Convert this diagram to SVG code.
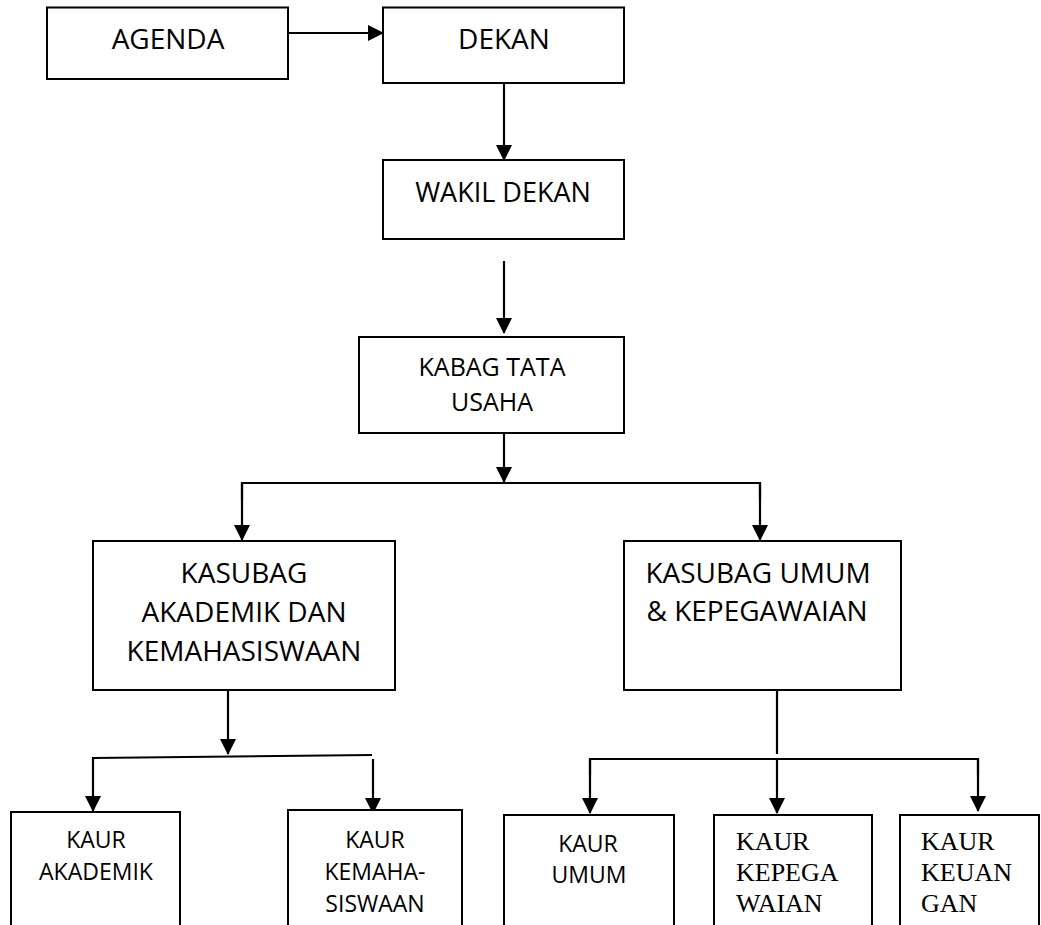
<svg xmlns="http://www.w3.org/2000/svg" width="1041" height="925" viewBox="0 0 1041 925">
<style>
.box{fill:#fff;stroke:#000;stroke-width:2}
.ln{fill:none;stroke:#000;stroke-width:2.2}
.t{font-family:"Open Sans","Liberation Sans",sans-serif;fill:#000;text-anchor:middle}
.s{font-family:"Liberation Serif","Times New Roman",serif;fill:#000;font-size:26px}
</style>
<defs>
<marker id="ah" markerUnits="userSpaceOnUse" markerWidth="16" markerHeight="16" viewBox="0 0 16 16" refX="15" refY="8" orient="auto">
<path d="M0,0 L16,8 L0,16 Z" fill="#000"/>
</marker>
</defs>
<g id="connectors">
<line class="ln" x1="288" y1="33" x2="383" y2="33" marker-end="url(#ah)"/>
<line class="ln" x1="504" y1="83" x2="504" y2="160" marker-end="url(#ah)"/>
<line class="ln" x1="504" y1="261" x2="504" y2="333" marker-end="url(#ah)"/>
<line class="ln" x1="504" y1="433" x2="504" y2="482" marker-end="url(#ah)"/>
<polyline class="ln" points="242,500 242,483 760,483 760,500"/>
<line class="ln" x1="242" y1="483" x2="242" y2="540" marker-end="url(#ah)"/>
<line class="ln" x1="760" y1="483" x2="760" y2="540" marker-end="url(#ah)"/>
<line class="ln" x1="228" y1="690" x2="228" y2="754" marker-end="url(#ah)"/>
<line class="ln" x1="93" y1="758" x2="372" y2="755"/>
<line class="ln" x1="93" y1="757" x2="93" y2="811" marker-end="url(#ah)"/>
<line class="ln" x1="373" y1="759" x2="373" y2="813" marker-end="url(#ah)"/>
<line class="ln" x1="777" y1="690" x2="777" y2="754"/>
<polyline class="ln" points="590,775 590,759 978,759 978,775"/>
<line class="ln" x1="590" y1="759" x2="590" y2="813" marker-end="url(#ah)"/>
<line class="ln" x1="777" y1="759" x2="777" y2="813" marker-end="url(#ah)"/>
<line class="ln" x1="978" y1="759" x2="978" y2="811" marker-end="url(#ah)"/>
</g>
<g id="agenda">
<rect class="box" x="47" y="7.5" width="241" height="71.5"/>
<text class="t" x="168" y="49" font-size="28">AGENDA</text>
</g>
<g id="dekan">
<rect class="box" x="383" y="7.5" width="241" height="75.5"/>
<text class="t" x="504" y="49" font-size="28">DEKAN</text>
</g>
<g id="wakil-dekan">
<rect class="box" x="383" y="160" width="241" height="79"/>
<text class="t" x="503" y="202" font-size="27">WAKIL DEKAN</text>
</g>
<g id="kabag-tata-usaha">
<rect class="box" x="359" y="337" width="265" height="96"/>
<text class="t" x="492" y="376" font-size="25">KABAG TATA</text>
<text class="t" x="492" y="411" font-size="25">USAHA</text>
</g>
<g id="kasubag-akademik">
<rect class="box" x="93" y="541" width="302" height="149"/>
<text class="t" x="244" y="583" font-size="28">KASUBAG</text>
<text class="t" x="244" y="622" font-size="28">AKADEMIK DAN</text>
<text class="t" x="244" y="661" font-size="28">KEMAHASISWAAN</text>
</g>
<g id="kasubag-umum">
<rect class="box" x="624" y="541" width="277" height="149"/>
<text class="t" x="758" y="583" font-size="28">KASUBAG UMUM</text>
<text class="t" x="757" y="621" font-size="28">&amp; KEPEGAWAIAN</text>
</g>
<g id="kaur-akademik">
<rect class="box" x="11" y="812" width="169" height="130"/>
<text class="t" x="96" y="848" font-size="23">KAUR</text>
<text class="t" x="96" y="880" font-size="23">AKADEMIK</text>
</g>
<g id="kaur-kemahasiswaan">
<rect class="box" x="288" y="810" width="174" height="130"/>
<text class="t" x="375" y="848" font-size="23">KAUR</text>
<text class="t" x="375" y="880" font-size="23">KEMAHA-</text>
<text class="t" x="375" y="912" font-size="23">SISWAAN</text>
</g>
<g id="kaur-umum">
<rect class="box" x="504" y="815" width="170" height="130"/>
<text class="t" x="588" y="852" font-size="23">KAUR</text>
<text class="t" x="589" y="883" font-size="23">UMUM</text>
</g>
<g id="kaur-kepegawaian">
<rect class="box" x="714" y="815" width="158" height="130"/>
<text class="s" x="736" y="850">KAUR</text>
<text class="s" x="736" y="881">KEPEGA</text>
<text class="s" x="736" y="912">WAIAN</text>
</g>
<g id="kaur-keuangan">
<rect class="box" x="900" y="815" width="139" height="130"/>
<text class="s" x="921" y="850">KAUR</text>
<text class="s" x="921" y="881">KEUAN</text>
<text class="s" x="921" y="912">GAN</text>
</g>
</svg>
